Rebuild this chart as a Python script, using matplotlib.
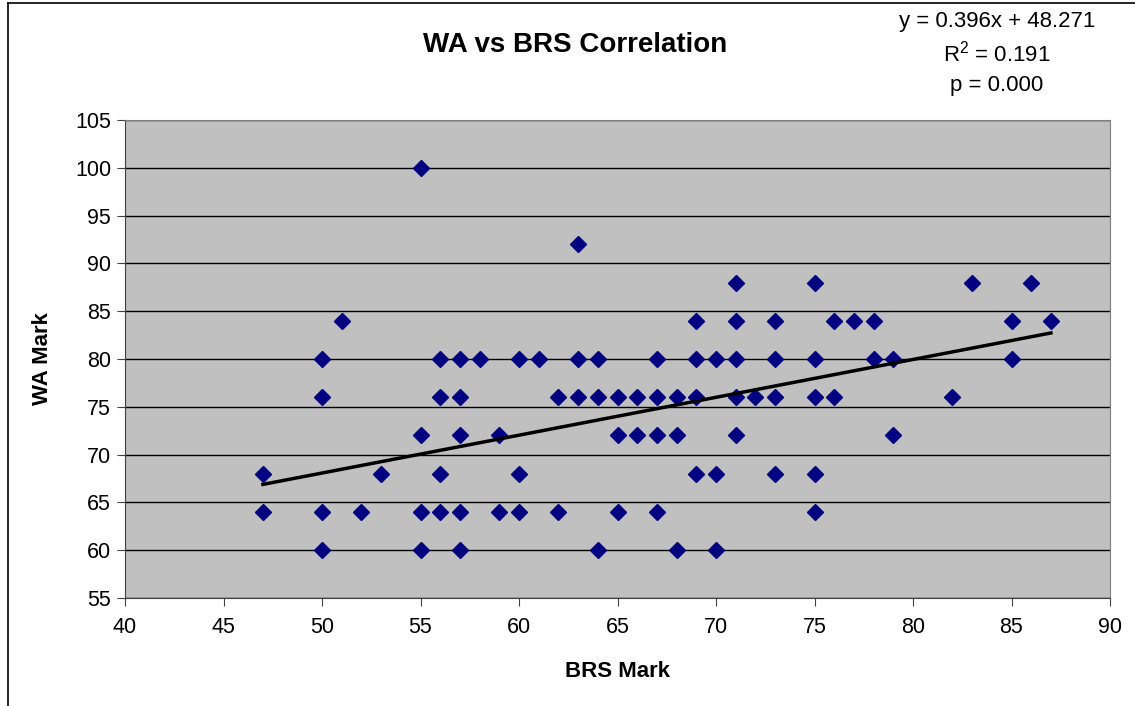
import matplotlib
matplotlib.use("Agg")
import matplotlib.pyplot as plt
import numpy as np

plt.rcParams['font.family'] = ['Liberation Sans', 'DejaVu Sans']

# BRS mark (x) and WA mark (y) for each student
brs = [47, 47,
       50, 50, 50, 50,
       51, 52, 53,
       55, 55, 55, 55,
       56, 56, 56, 56,
       57, 57, 57, 57, 57,
       58, 59, 59,
       60, 60, 60,
       61, 62, 62,
       63, 63, 63,
       64, 64, 64,
       65, 65, 65,
       66, 66,
       67, 67, 67, 67,
       68, 68, 68,
       69, 69, 69, 69,
       70, 70, 70,
       71, 71, 71, 71, 71,
       72,
       73, 73, 73, 73,
       75, 75, 75, 75, 75,
       76, 76, 77, 78, 78, 79, 79,
       82, 83, 85, 85, 86, 87]
wa = [68, 64,
      80, 76, 64, 60,
      84, 64, 68,
      100, 72, 64, 60,
      80, 76, 68, 64,
      80, 76, 72, 64, 60,
      80, 72, 64,
      80, 68, 64,
      80, 76, 64,
      92, 80, 76,
      80, 76, 60,
      76, 72, 64,
      76, 72,
      80, 76, 72, 64,
      76, 72, 60,
      84, 80, 76, 68,
      80, 68, 60,
      88, 84, 80, 76, 72,
      76,
      84, 80, 76, 68,
      88, 80, 76, 68, 64,
      84, 76, 84, 84, 80, 80, 72,
      76, 88, 84, 80, 88, 84]

# Linear trend reported on the chart
slope = 0.396
intercept = 48.271
r_squared = 0.191
p_value = 0.000

fig = plt.figure(figsize=(11.35, 7.06), dpi=100)
ax = fig.add_axes([125 / 1135, 1 - 598 / 706, 985 / 1135, 478 / 706])

ax.set_facecolor('#C0C0C0')
ax.set_xlim(40, 90)
ax.set_ylim(55, 105)
ax.set_xticks(np.arange(40, 91, 5))
ax.set_yticks(np.arange(55, 106, 5))
ax.yaxis.grid(True, color='black', linewidth=1)
ax.set_axisbelow(True)

ax.plot(brs, wa, linestyle='none', marker='D', markersize=8,
        color='#000080')

# trend line over the range of the data
tx = np.array([min(brs), max(brs)])
ax.plot(tx, slope * tx + intercept, color='black', linewidth=2.5)

for s in ax.spines.values():
    s.set_color('#808080')
ax.spines['left'].set_color('#404040')
ax.spines['bottom'].set_color('#404040')
ax.tick_params(direction='out', length=6, color='#404040', labelsize=15.5)
ax.tick_params(axis='y', pad=4)
ax.tick_params(axis='x', pad=8)

ax.set_xlabel('BRS Mark', fontsize=16, fontweight='bold', labelpad=16)
ax.set_ylabel('WA Mark', fontsize=16, fontweight='bold', labelpad=16)

fig.text(575 / 1135, 1 - 45 / 706, 'WA vs BRS Correlation', fontsize=20,
         fontweight='bold', ha='center', va='center')

fig.text(997 / 1135, 1 - 22 / 706, 'y = %.3fx + %.3f' % (slope, intercept),
         fontsize=16, ha='center', va='center')
fig.text(997 / 1135, 1 - 54 / 706, '$\\mathregular{R^2}$ = %.3f' % r_squared,
         fontsize=16, ha='center', va='center')
fig.text(997 / 1135, 1 - 85 / 706, 'p = %.3f' % p_value,
         fontsize=16, ha='center', va='center')

# outer chart frame (left and top edges visible)
fig.add_artist(plt.Line2D([8 / 1135, 8 / 1135], [0, 1 - 3 / 706],
                          color='black', linewidth=1.2, transform=fig.transFigure))
fig.add_artist(plt.Line2D([8 / 1135, 1], [1 - 3 / 706, 1 - 3 / 706],
                          color='black', linewidth=1.2, transform=fig.transFigure))

fig.savefig('out.png', dpi=100)
